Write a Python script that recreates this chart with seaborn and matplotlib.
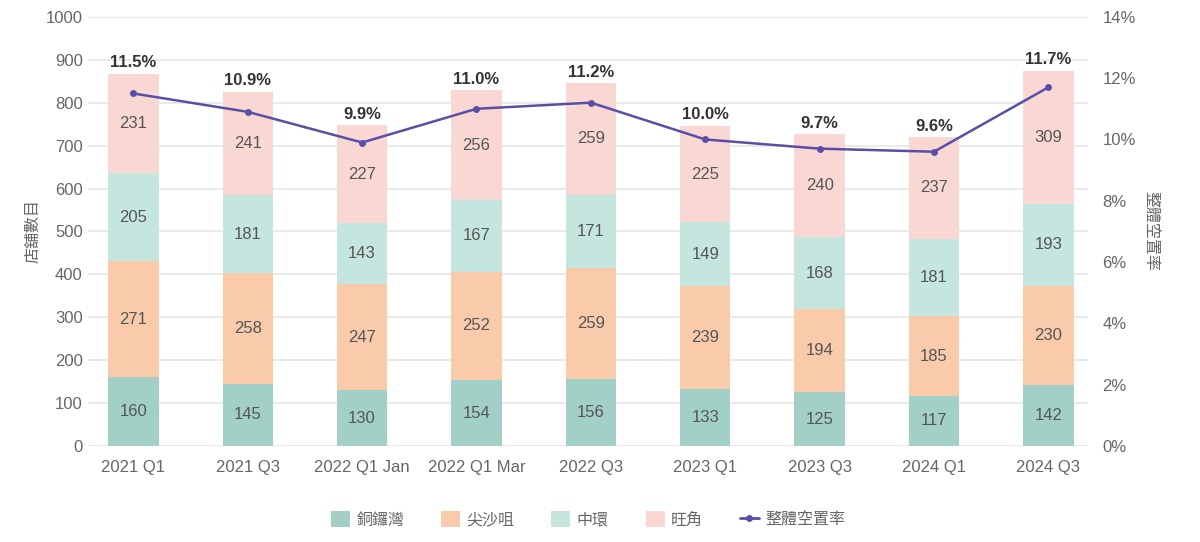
import numpy as np
import pandas as pd
import seaborn as sns
import matplotlib
matplotlib.use('Agg')
import matplotlib.pyplot as plt
from matplotlib.patches import Patch
from matplotlib.lines import Line2D

periods = ['2021 Q1', '2021 Q3', '2022 Q1 Jan', '2022 Q1 Mar', '2022 Q3',
           '2023 Q1', '2023 Q3', '2024 Q1', '2024 Q3']
causeway_bay = [160, 145, 130, 154, 156, 133, 125, 117, 142]
tsim_sha_tsui = [271, 258, 247, 252, 259, 239, 194, 185, 230]
central = [205, 181, 143, 167, 171, 149, 168, 181, 193]
mong_kok = [231, 241, 227, 256, 259, 225, 240, 237, 309]
vacancy_rate = [11.5, 10.9, 9.9, 11.0, 11.2, 10.0, 9.7, 9.6, 11.7]

district_names = ['銅鑼灣', '尖沙咀', '中環', '旺角']
colors = ['#a2d0c7', '#f9cbab', '#c4e6df', '#f9d8d4']
line_color = '#5a4ea6'

sns.set_style('white')
plt.rcParams['font.family'] = ['Liberation Sans', 'Noto Sans CJK TC', 'DejaVu Sans']

df = pd.DataFrame({'period': periods,
                   '銅鑼灣': causeway_bay,
                   '尖沙咀': tsim_sha_tsui,
                   '中環': central,
                   '旺角': mong_kok})
series = [df[n].to_numpy() for n in district_names]
cum = np.cumsum(series, axis=0)

fig = plt.figure(figsize=(12, 5.42), dpi=100)
ax = fig.add_axes([0.073, 0.177, 0.834, 0.792])

# draw cumulative bars from the top down so each layer covers the one above
for i in range(len(district_names) - 1, -1, -1):
    sns.barplot(x=df['period'], y=cum[i], color=colors[i], width=0.44,
                saturation=1, linewidth=0, ax=ax, zorder=2)

for i in range(len(district_names)):
    bottom = cum[i] - series[i]
    for j, v in enumerate(series[i]):
        ax.text(j, bottom[j] + v / 2, str(v), ha='center', va='center',
                fontsize=12, color='#555555', zorder=4)

ax.set_ylim(0, 1000)
ax.set_xlim(-0.4, 8.35)
ax.set_yticks(range(0, 1001, 100))
ax.yaxis.grid(True, color='#e6e6e6', linewidth=1.2, zorder=0)
ax.set_axisbelow(True)
for s in ax.spines.values():
    s.set_visible(False)
ax.tick_params(axis='both', length=0, labelsize=12, labelcolor='#666666')
ax.tick_params(axis='x', pad=10)
ax.set_xlabel('')
ax.set_ylabel('店舖數目', fontsize=11.5, color='#666666', labelpad=4)

ax2 = ax.twinx()
sns.lineplot(x=np.arange(len(periods)), y=vacancy_rate, color=line_color,
             marker='o', markersize=5, markeredgewidth=0, linewidth=1.8,
             ax=ax2, zorder=5)
ax2.set_ylim(0, 14)
ax2.set_yticks(range(0, 15, 2))
ax2.set_yticklabels([f'{t}%' for t in range(0, 15, 2)])
for s in ax2.spines.values():
    s.set_visible(False)
ax2.tick_params(axis='y', length=0, labelsize=12, labelcolor='#666666', pad=10)
ax2.set_ylabel('整體空置率', fontsize=11.5, color='#666666', rotation=-90, labelpad=16)

for j, r in enumerate(vacancy_rate):
    ax.text(j, cum[-1][j] + 8, f'{r:.1f}%', ha='center', va='bottom',
            fontsize=12, fontweight='bold', color='#333333', zorder=6)

handles = [Patch(facecolor=c, edgecolor='none') for c in colors]
handles.append(Line2D([0], [0], color=line_color, marker='o', markersize=4, linewidth=2))
fig.legend(handles, district_names + ['整體空置率'], loc='lower center',
           bbox_to_anchor=(0.49, 0.0), ncol=5, frameon=False, fontsize=11.5,
           labelcolor='#666666', handlelength=1.2, handleheight=1.2,
           columnspacing=2.3, handletextpad=0.4)

fig.savefig('out.png', dpi=100)
